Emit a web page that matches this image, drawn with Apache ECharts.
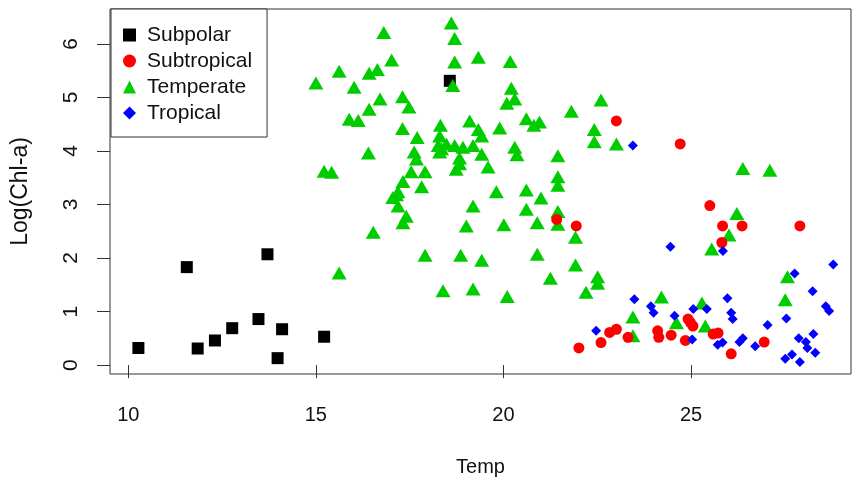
<!DOCTYPE html>
<html>
<head>
<meta charset="utf-8">
<script src="https://cdn.jsdelivr.net/npm/echarts@6/dist/echarts.min.js"></script>
<style>
  html, body { margin: 0; padding: 0; background: #fff; }
  #chart { width: 854px; height: 482px; }
</style>
</head>
<body>
<div id="chart"></div>
<script>
// Categories
var groups = ['Subpolar', 'Subtropical', 'Temperate', 'Tropical'];

// Tick labels
var xTicks = [10, 15, 20, 25];
var yTicks = [0, 1, 2, 3, 4, 5, 6];

// Series values: [Temp, Log(Chl-a)]
var subpolar = [
  [10.27, 0.32], [11.56, 1.83], [11.85, 0.31], [12.31, 0.46], [12.77, 0.69],
  [13.47, 0.86], [13.71, 2.07], [13.98, 0.13], [14.10, 0.67], [15.22, 0.53],
  [18.57, 5.31]
];

var subtropical = [
  [23.01, 4.56], [24.71, 4.13], [21.42, 2.72], [21.94, 2.60], [25.50, 2.98],
  [25.84, 2.60], [26.36, 2.60], [27.90, 2.60], [25.82, 2.29], [24.92, 0.86],
  [24.98, 0.80], [25.05, 0.73], [22.83, 0.61], [23.01, 0.67], [23.32, 0.52],
  [24.11, 0.64], [24.14, 0.52], [24.47, 0.56], [22.60, 0.42], [22.01, 0.32],
  [24.85, 0.46], [25.59, 0.58], [25.72, 0.60], [26.07, 0.21], [26.95, 0.43]
];

var temperate = [
  [16.81, 6.21], [18.61, 6.39], [18.70, 6.10], [17.02, 5.70], [19.33, 5.75],
  [20.18, 5.67], [18.70, 5.66], [15.62, 5.49], [16.42, 5.45], [16.64, 5.52],
  [15.00, 5.27], [16.02, 5.19], [18.65, 5.22], [20.21, 5.17], [20.30, 4.97],
  [20.09, 4.89], [16.71, 4.97], [17.31, 5.01], [17.48, 4.82], [16.42, 4.78],
  [15.89, 4.59], [16.13, 4.57], [17.31, 4.42], [18.32, 4.48], [19.10, 4.56],
  [19.90, 4.43], [20.61, 4.60], [20.81, 4.48], [20.96, 4.54], [17.70, 4.25],
  [18.30, 4.28], [19.33, 4.40], [19.42, 4.28], [18.26, 4.10], [18.48, 4.13],
  [18.70, 4.10], [18.92, 4.07], [19.19, 4.10], [18.35, 4.04], [16.40, 3.96],
  [17.62, 3.98], [18.30, 3.98], [19.42, 3.94], [20.30, 4.07], [20.36, 3.93],
  [18.83, 3.87], [18.83, 3.76], [17.68, 3.85], [19.59, 3.70], [18.74, 3.66],
  [15.22, 3.62], [15.42, 3.60], [17.54, 3.61], [17.91, 3.61], [17.32, 3.43],
  [17.82, 3.33], [17.19, 3.24], [17.15, 3.18], [17.05, 3.13], [19.81, 3.24],
  [20.61, 3.27], [21.00, 3.12], [17.19, 2.97], [17.41, 2.78], [17.32, 2.66],
  [19.19, 2.97], [20.61, 2.91], [19.01, 2.60], [20.01, 2.62], [20.90, 2.66],
  [16.53, 2.48], [17.91, 2.05], [18.86, 2.05], [19.42, 1.96], [20.90, 2.07],
  [15.62, 1.72], [18.39, 1.39], [19.19, 1.42], [20.10, 1.28], [22.60, 4.95],
  [21.81, 4.74], [22.42, 4.40], [22.42, 4.17], [23.01, 4.13], [21.45, 3.91],
  [21.45, 3.52], [21.45, 3.36], [21.45, 2.87], [21.45, 2.63], [21.92, 2.39],
  [21.92, 1.87], [21.25, 1.62], [22.51, 1.65], [22.51, 1.53], [22.20, 1.36],
  [24.21, 1.27], [23.45, 0.90], [24.61, 0.79], [23.45, 0.55], [26.38, 3.67],
  [27.10, 3.64], [26.22, 2.83], [26.01, 2.43], [25.55, 2.17], [27.57, 1.65],
  [27.51, 1.22], [25.29, 1.16], [25.38, 0.73]
];

var tropical = [
  [23.45, 4.10], [24.45, 2.21], [25.85, 2.13], [28.79, 1.88], [27.76, 1.71],
  [28.24, 1.38], [25.97, 1.25], [25.06, 1.05], [25.42, 1.05], [28.59, 1.10],
  [28.68, 1.01], [26.07, 0.98], [26.11, 0.86], [27.54, 0.87], [27.04, 0.75],
  [25.71, 0.38], [25.84, 0.42], [26.29, 0.43], [26.38, 0.50], [26.71, 0.35],
  [27.87, 0.50], [28.26, 0.58], [28.06, 0.43], [28.10, 0.32], [28.31, 0.23],
  [27.51, 0.12], [27.69, 0.20], [27.90, 0.06], [23.49, 1.23], [23.93, 1.10],
  [24.00, 0.98], [24.56, 0.92], [22.47, 0.64], [25.03, 0.48]
];

var FONT = "'Liberation Sans', Arial, Helvetica, sans-serif";
var chart = echarts.init(document.getElementById('chart'), null, { renderer: 'canvas' });

chart.setOption({
  backgroundColor: '#ffffff',
  animation: false,
  textStyle: { fontFamily: FONT, color: '#111' },
  grid: {
    left: 110, top: 9, width: 741, height: 370,
    show: true, borderColor: '#333', borderWidth: 1, backgroundColor: 'transparent'
  },
  legend: {
    orient: 'vertical',
    left: 111, top: 9,
    data: groups,
    backgroundColor: '#fff',
    borderColor: '#333', borderWidth: 1,
    padding: [15, 15, 13, 12],
    itemGap: 4,
    itemWidth: 13, itemHeight: 13,
    itemStyle: { opacity: 1 },
    textStyle: { fontFamily: FONT, fontSize: 21, lineHeight: 22, color: '#111', padding: [0, 0, 0, 6] }
  },
  xAxis: {
    type: 'value',
    min: 9.513, max: 29.263,
    name: 'Temp', nameLocation: 'middle', nameGap: 83,
    nameTextStyle: { fontFamily: FONT, fontSize: 20, color: '#111' },
    axisLine: { show: false },
    axisTick: { show: true, inside: false, length: 13, customValues: xTicks, lineStyle: { color: '#333', width: 1 } },
    axisLabel: { customValues: xTicks, margin: 31, fontFamily: FONT, fontSize: 20, color: '#111' },
    splitLine: { show: false }
  },
  yAxis: {
    type: 'value',
    min: -0.166, max: 6.651,
    name: 'Log(Chl-a)', nameLocation: 'middle', nameGap: 78, nameRotate: 90,
    nameTextStyle: { fontFamily: FONT, fontSize: 23, color: '#111' },
    axisLine: { show: false },
    axisTick: { show: true, inside: false, length: 13, customValues: yTicks, lineStyle: { color: '#333', width: 1 } },
    axisLabel: { customValues: yTicks, rotate: 90, margin: 28, fontFamily: FONT, fontSize: 21, color: '#111' },
    splitLine: { show: false }
  },
  series: [
    { name: 'Subpolar', type: 'scatter', data: subpolar, symbol: 'rect', symbolSize: 12,
      itemStyle: { color: '#000000', opacity: 1 }, z: 2 },
    { name: 'Subtropical', type: 'scatter', data: subtropical, symbol: 'circle', symbolSize: 11,
      itemStyle: { color: '#FF0000', opacity: 1 }, z: 3 },
    { name: 'Temperate', type: 'scatter', data: temperate, symbol: 'triangle', symbolSize: [15, 13],
      itemStyle: { color: '#00CD00', opacity: 1 }, z: 2 },
    { name: 'Tropical', type: 'scatter', data: tropical, symbol: 'diamond', symbolSize: 10,
      itemStyle: { color: '#0000FF', opacity: 1 }, z: 4 }
  ]
});
</script>
</body>
</html>
